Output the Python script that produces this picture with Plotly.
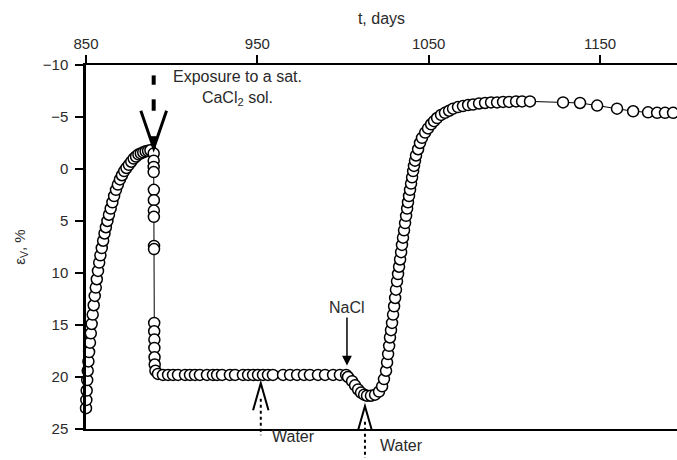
import plotly.graph_objects as go

# ---- measured volumetric strain (eps_V, %) versus time (days) ----
# initial expansion/shrinkage run
days_initial = [850.0, 850.2, 850.4, 850.7, 851.0, 851.4, 851.8, 852.3, 852.8, 853.3,
                853.9, 854.5, 855.1, 855.7, 856.3, 857.0, 857.7, 858.4, 859.2, 860.0,
                860.8, 861.6, 862.5, 863.4, 864.4, 865.4, 866.4, 867.5, 868.6, 869.8,
                871.0, 872.3, 873.6, 875.0, 876.4, 877.8, 879.2, 880.6, 882.0, 883.4,
                884.8, 886.2, 887.6]
eps_initial = [23.0, 22.2, 21.3, 20.3, 19.4, 18.5, 17.6, 16.7, 15.8, 14.9,
               14.0, 13.1, 12.2, 11.4, 10.6, 9.8, 9.0, 8.3, 7.6, 6.9,
               6.2, 5.6, 5.0, 4.4, 3.8, 3.2, 2.6, 2.0, 1.5, 1.0,
               0.6, 0.2, -0.1, -0.4, -0.7, -1.0, -1.2, -1.4, -1.5, -1.6,
               -1.7, -1.75, -1.8]

# response to the saturated CaCl2 solution
days_cacl2 = [889.5, 889.5, 889.5, 889.5, 889.6, 889.6, 889.6, 889.6, 889.7, 889.7,
              889.8, 889.8, 889.9, 889.9, 890.0, 890.1, 890.5]
eps_cacl2 = [-1.5, -0.8, -0.2, 0.3, 2.0, 3.0, 4.0, 4.6, 7.4, 7.7,
             14.8, 15.6, 16.4, 17.2, 18.1, 18.8, 19.4]

# steady stage
days_steady = [892.0, 894.9, 897.9, 900.8, 903.7, 907.8, 910.7, 913.6, 916.5, 920.6,
               924.1, 926.5, 929.4, 934.0, 937.0, 941.6, 944.6, 947.5, 950.4, 953.3,
               956.2, 959.1, 965.0, 969.1, 973.2, 977.2, 980.7, 985.4, 989.5, 994.2,
               998.2, 1001.8]
eps_steady = [19.7, 19.8, 19.8, 19.8, 19.8, 19.8, 19.8, 19.8, 19.8, 19.8,
              19.8, 19.8, 19.8, 19.8, 19.8, 19.8, 19.8, 19.8, 19.8, 19.8,
              19.8, 19.8, 19.8, 19.8, 19.8, 19.8, 19.8, 19.8, 19.8, 19.8,
              19.8, 19.8]

# NaCl exposure and recovery
days_nacl = [1002.9, 1005.3, 1007.0, 1008.8, 1010.5, 1012.3, 1014.0, 1016.3, 1018.7, 1021.0,
             1022.8, 1023.9, 1025.1, 1025.7, 1026.3, 1026.9, 1027.4, 1028.0, 1028.6, 1029.2,
             1029.8, 1030.4, 1030.9, 1031.5, 1032.1, 1032.7, 1033.3, 1033.9, 1034.4, 1035.0,
             1035.6, 1036.2, 1036.8, 1037.4, 1037.9, 1038.5, 1039.1, 1039.7, 1040.3, 1040.9,
             1041.4, 1042.0, 1042.6, 1043.8, 1044.9, 1046.1, 1047.9, 1049.6, 1051.4, 1053.1,
             1054.9, 1057.2, 1059.5, 1061.9, 1064.2, 1067.1, 1070.0, 1073.0, 1075.9, 1079.4,
             1082.9, 1086.4, 1089.9, 1093.4, 1096.9, 1101.0, 1104.5, 1109.1]
eps_nacl = [20.0, 20.4, 20.8, 21.2, 21.5, 21.7, 21.8, 21.8, 21.7, 21.4,
            20.9, 20.2, 19.4, 18.6, 17.8, 17.0, 16.2, 15.5, 14.8, 14.0,
            13.2, 12.4, 11.6, 10.8, 10.1, 9.4, 8.7, 8.0, 7.3, 6.6,
            5.9, 5.2, 4.5, 3.8, 3.2, 2.6, 2.0, 1.4, 0.8, 0.2,
            -0.3, -0.8, -1.3, -1.9, -2.5, -3.0, -3.5, -3.9, -4.3, -4.6,
            -4.9, -5.2, -5.4, -5.6, -5.8, -5.95, -6.05, -6.15, -6.2, -6.3,
            -6.35, -6.4, -6.4, -6.45, -6.45, -6.5, -6.5, -6.5]

# late stage
days_late = [1128.4, 1138.3, 1148.3, 1159.9, 1169.3, 1178.0, 1183.3, 1187.9, 1192.6]
eps_late = [-6.4, -6.35, -6.1, -5.8, -5.55, -5.45, -5.4, -5.4, -5.4]

# ---- event markers ----
cacl2_day = 889.5
nacl_day = 1002.3
water_days = [952.0, 1012.8]
water_apex = [20.6, 22.8]

x_ticks = [850, 950, 1050, 1150]
y_ticks = [-10, -5, 0, 5, 10, 15, 20, 25]
y_ticklabels = ["\u221210", "\u22125", "0", "5", "10", "15", "20", "25"]

Y_TOP, Y_BOTTOM = -10, 25
X_LEFT, X_RIGHT = 850, 1194.9

FONT = "Liberation Sans, Arial, sans-serif"
TXT = "#2a2a2a"


def paper_y(v):
    """eps value -> paper fraction (lets marks extend below the axis)."""
    return (Y_BOTTOM - v) / (Y_BOTTOM - Y_TOP)


days = days_initial + days_cacl2 + days_steady + days_nacl + days_late
eps = eps_initial + eps_cacl2 + eps_steady + eps_nacl + eps_late

fig = go.Figure()
fig.add_trace(go.Scatter(
    x=days, y=eps, mode="lines+markers",
    line=dict(color="black", width=1),
    marker=dict(symbol="circle", size=11, color="white",
                line=dict(color="black", width=1.5)),
    cliponaxis=False, showlegend=False,
))

shapes = []
# CaCl2 exposure: dashed stem plus open V-shaped arrowhead
shapes.append(dict(type="line", xref="x", yref="y", x0=cacl2_day, x1=cacl2_day,
                   y0=-9.0, y1=-8.1, line=dict(color="black", width=4)))
shapes.append(dict(type="line", xref="x", yref="y", x0=cacl2_day, x1=cacl2_day,
                   y0=-6.7, y1=-5.6, line=dict(color="black", width=4)))
shapes.append(dict(type="path", xref="x", yref="y",
                   path=f"M {cacl2_day - 7.5},-5.6 L {cacl2_day},-2.0 L {cacl2_day + 7.5},-5.6",
                   line=dict(color="black", width=3)))
shapes.append(dict(type="path", xref="x", yref="y",
                   path=f"M {cacl2_day - 1.8},-3.1 L {cacl2_day},-2.0 L {cacl2_day + 1.8},-3.1 Z",
                   fillcolor="black", line=dict(color="black", width=1)))

# Water additions: open wedge with dotted tail below
for d, apex in zip(water_days, water_apex):
    shapes.append(dict(type="path", xref="x", yref="y",
                       path=f"M {d - 4.5},{apex + 2.6} L {d},{apex} L {d + 4.5},{apex + 2.6}",
                       line=dict(color="black", width=2)))
    shapes.append(dict(type="line", xref="x", yref="paper", x0=d, x1=d,
                       y0=paper_y(apex + 1.5), y1=paper_y(apex + 5.0),
                       line=dict(color="black", width=2, dash="dot")))

annotations = [
    dict(x=938.5, y=-7.8, xref="x", yref="y", showarrow=False,
         text="Exposure to a sat.<br>CaCl<sub>2</sub> sol.",
         font=dict(family=FONT, size=16, color=TXT), align="center"),
    dict(x=nacl_day, y=18.9, xref="x", yref="y", text="NaCl",
         showarrow=True, ax=0, ay=-58, arrowhead=2, arrowsize=1.3,
         arrowwidth=1.5, arrowcolor="black",
         font=dict(family=FONT, size=16, color=TXT)),
    dict(x=970.8, y=paper_y(26.7), xref="x", yref="paper", text="Water",
         showarrow=False, font=dict(family=FONT, size=16, color=TXT)),
    dict(x=1033.9, y=paper_y(27.6), xref="x", yref="paper", text="Water",
         showarrow=False, font=dict(family=FONT, size=16, color=TXT)),
]

fig.update_layout(
    width=677, height=460,
    margin=dict(l=86, r=0, t=65, b=31),
    paper_bgcolor="white", plot_bgcolor="white",
    font=dict(family=FONT, size=15, color=TXT),
    shapes=shapes, annotations=annotations,
    xaxis=dict(side="top", range=[X_LEFT, X_RIGHT], tickvals=x_ticks,
               ticks="outside", ticklen=8, tickwidth=2, tickcolor="black",
               showline=True, linewidth=2, linecolor="black", mirror=True,
               showgrid=False, zeroline=False,
               tickfont=dict(size=15, color=TXT),
               title=dict(text="t, days", font=dict(size=16, color=TXT), standoff=6)),
    yaxis=dict(range=[Y_BOTTOM, Y_TOP], tickvals=y_ticks, ticktext=y_ticklabels,
               ticks="outside", ticklen=8, tickwidth=2, tickcolor="black",
               showline=True, linewidth=2.5, linecolor="black",
               showgrid=False, zeroline=False, ticklabelstandoff=4,
               tickfont=dict(size=15, color=TXT),
               title=dict(text="\u03b5<sub>V</sub>, %", font=dict(size=15, color=TXT), standoff=14)),
)

fig.write_html("out.html")
